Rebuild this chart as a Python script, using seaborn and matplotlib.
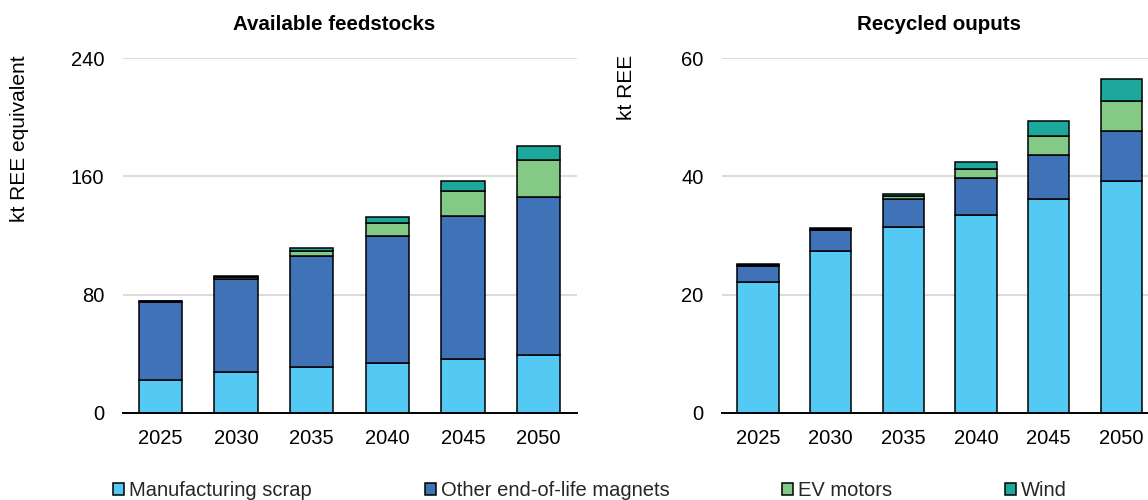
import numpy as np
import matplotlib
matplotlib.use("Agg")
import matplotlib.pyplot as plt
from matplotlib.patches import Patch
import seaborn as sns

# Years on the horizontal axis
years = ["2025", "2030", "2035", "2040", "2045", "2050"]

# Available feedstocks (kt REE equivalent)
feed_scrap = [22.5, 27.4, 31.4, 33.5, 36.2, 39.1]
feed_other = [52.5, 63.1, 74.6, 86.0, 97.0, 107.0]
feed_ev = [0.4, 1.2, 3.4, 9.0, 16.7, 24.8]
feed_wind = [0.3, 1.0, 2.3, 4.0, 6.7, 9.6]

# Recycled outputs (kt REE)
rec_scrap = [22.2, 27.4, 31.4, 33.5, 36.2, 39.2]
rec_other = [2.7, 3.6, 4.7, 6.2, 7.4, 8.5]
rec_ev = [0.1, 0.15, 0.5, 1.5, 3.2, 5.0]
rec_wind = [0.1, 0.15, 0.4, 1.3, 2.5, 3.8]

series_names = ["Manufacturing scrap", "Other end-of-life magnets", "EV motors", "Wind"]
series_colors = ["#53c9f3", "#4072b8", "#84c985", "#1ca99c"]

sns.set_theme(style="white")
plt.rcParams["font.family"] = ["Liberation Sans", "DejaVu Sans"]
FS = 14.5

fig = plt.figure(figsize=(11.48, 5.0), dpi=100)
W, H = 1148.0, 500.0
ax_l = fig.add_axes([122.5 / W, 1 - 413 / H, 454 / W, 355 / H])
ax_r = fig.add_axes([721.7 / W, 1 - 413 / H, 436 / W, 355 / H])


def stacked(ax, layers, ymax, yticks):
    bottom = np.zeros(len(years))
    for vals, col in zip(layers, series_colors):
        sns.barplot(x=years, y=vals, bottom=bottom, color=col, saturation=1,
                    width=0.57, edgecolor="black", linewidth=1.1,
                    errorbar=None, ax=ax, zorder=3)
        bottom = bottom + np.asarray(vals)
    ax.set_xlim(-0.5, 5.5)
    ax.set_ylim(0, ymax)
    ax.set_yticks(yticks)
    ax.set_yticklabels([str(t) for t in yticks])
    ax.grid(axis="y", color="#d9d9d9", linewidth=1.3, zorder=0)
    ax.grid(axis="x", visible=False)
    for s in ["left", "right", "top"]:
        ax.spines[s].set_visible(False)
    ax.spines["bottom"].set_color("black")
    ax.spines["bottom"].set_linewidth(1.4)
    ax.spines["bottom"].set_zorder(4)
    ax.tick_params(axis="y", length=0, pad=13, labelsize=FS, labelcolor="black")
    ax.tick_params(axis="x", length=0, pad=11.5, labelsize=FS, labelcolor="black")
    ax.set_xlabel("")
    ax.set_ylabel("")


stacked(ax_l, [feed_scrap, feed_other, feed_ev, feed_wind], 240, [0, 80, 160, 240])
stacked(ax_r, [rec_scrap, rec_other, rec_ev, rec_wind], 60, [0, 20, 40, 60])

# Panel titles
fig.text(334.5 / W, 1 - 25 / H, "Available feedstocks", ha="center", va="center",
         fontsize=FS + 0.3, fontweight="bold", color="black")
fig.text(939 / W, 1 - 25 / H, "Recycled ouputs", ha="center", va="center",
         fontsize=FS + 0.3, fontweight="bold", color="black")

# Axis labels
fig.text(20 / W, 1 - 55 / H, "kt REE equivalent", rotation=90, ha="center", va="top",
         fontsize=FS + 0.5, color="black")
fig.text(626 / W, 1 - 55 / H, "kt REE", rotation=90, ha="center", va="top",
         fontsize=FS + 0.5, color="black")

# Shared legend along the bottom
handles = [Patch(facecolor=c, edgecolor="black", linewidth=1.1) for c in series_colors]
fig.legend(handles, series_names, loc="center left",
           bbox_to_anchor=(113 / W, 1 - 491 / H), ncol=4, frameon=False,
           fontsize=FS, handlelength=0.55, handleheight=0.55, handletextpad=0.25,
           columnspacing=5.6, borderpad=0, borderaxespad=0)

fig.savefig("out.png", dpi=100)
